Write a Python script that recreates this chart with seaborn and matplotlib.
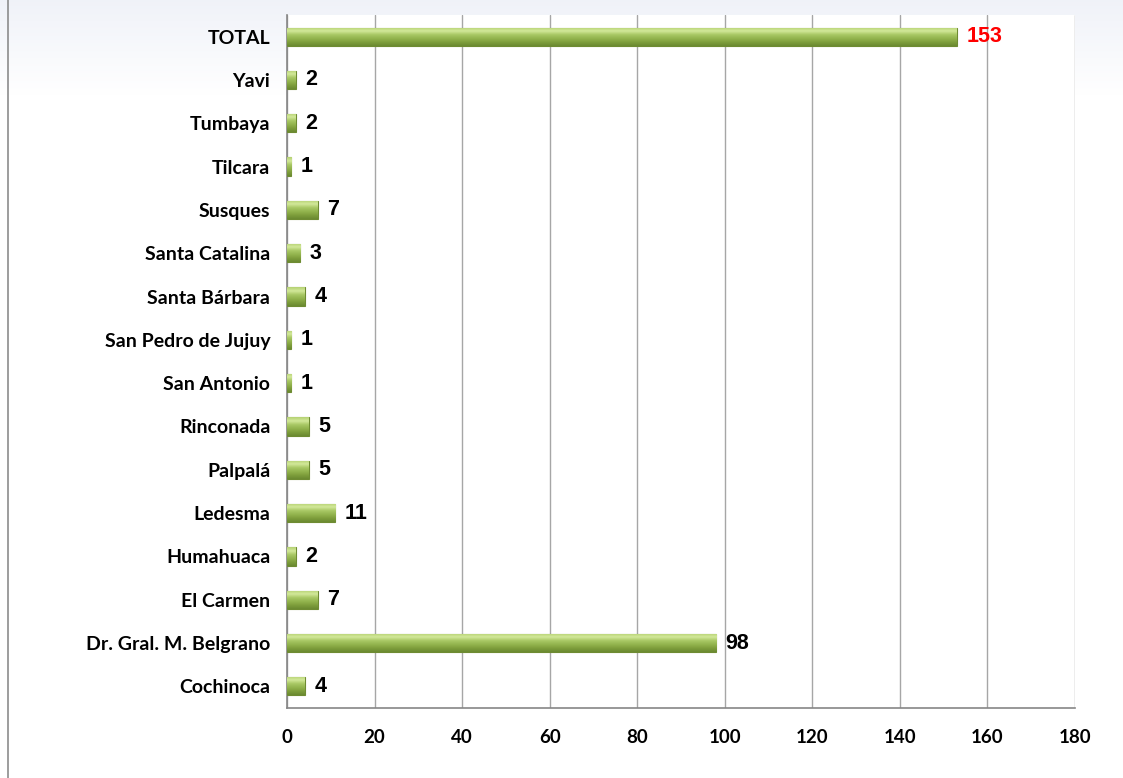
import numpy as np
import pandas as pd
import matplotlib
matplotlib.use("Agg")
import matplotlib.pyplot as plt
import seaborn as sns
from matplotlib.lines import Line2D
from matplotlib.colors import LinearSegmentedColormap

categories = ["TOTAL", "Yavi", "Tumbaya", "Tilcara", "Susques", "Santa Catalina",
              "Santa Bárbara", "San Pedro de Jujuy", "San Antonio", "Rinconada",
              "Palpalá", "Ledesma", "Humahuaca", "El Carmen",
              "Dr. Gral. M. Belgrano", "Cochinoca"]
values = [153, 2, 2, 1, 7, 3, 4, 1, 1, 5, 5, 11, 2, 7, 98, 4]
x_ticks = [0, 20, 40, 60, 80, 100, 120, 140, 160, 180]

df = pd.DataFrame({"municipio": categories, "cantidad": values})

sns.set_style("white")
plt.rcParams["font.family"] = ["Lato", "DejaVu Sans"]

fig = plt.figure(figsize=(11.23, 7.78), dpi=100)

# light gradient band at the top of the slide
bg = fig.add_axes([0, 0, 1, 1], zorder=-10)
grad = np.ones((778, 1, 3))
top = np.array([0.94, 0.95, 0.975])
for i in range(778):
    t = min(i / 95.0, 1.0)
    grad[i, 0] = top * (1 - t) + np.array([1, 1, 1]) * t
bg.imshow(grad, aspect="auto", extent=[0, 1, 0, 1], origin="upper")
bg.set_axis_off()
fig.add_artist(Line2D([8 / 1123, 8 / 1123], [0, 1], color="#8c8c8c", lw=1.2))

ax = fig.add_axes([287 / 1123, 1 - 708 / 778, (1075 - 287) / 1123, 693 / 778])
sns.barplot(data=df, y="municipio", x="cantidad", orient="h", color="#9BBB59",
            width=0.42, edgecolor="#6E8B32", linewidth=0.8, ax=ax, zorder=3)

# bevel-like vertical gradient on each bar
cmap = LinearSegmentedColormap.from_list(
    "bev", ["#B5D172", "#D2E89A", "#A9C865", "#93B44E", "#7E9E3C", "#6B8930"])
g = np.linspace(0, 1, 64).reshape(-1, 1)
for p in list(ax.patches):
    x0, y0 = p.get_x(), p.get_y()
    w, h = p.get_width(), p.get_height()
    im = ax.imshow(g, cmap=cmap, aspect="auto", extent=[x0, x0 + w, y0 + h, y0],
                   origin="upper", zorder=3.5)
    im.set_clip_path(p)

ax.set_xlim(0, 180)
ax.set_ylim(len(categories) - 0.5, -0.5)
ax.set_xticks(x_ticks)
ax.set_xlabel("")
ax.set_ylabel("")
ax.set_facecolor("white")
ax.grid(axis="x", color="#a6a6a6", lw=1, zorder=0)
ax.grid(axis="y", visible=False)
for s in ["top", "right"]:
    ax.spines[s].set_visible(False)
for s in ["left", "bottom"]:
    ax.spines[s].set_color("#868686")
    ax.spines[s].set_linewidth(1.2)

ax.set_yticks(np.arange(-0.5, len(categories), 1), minor=True)
ax.tick_params(axis="y", which="major", length=0, pad=12, labelsize=14)
ax.tick_params(axis="y", which="minor", length=6, color="#868686", width=1.2, direction="out")
ax.tick_params(axis="x", length=6, color="#868686", width=1.2, direction="out", pad=9, labelsize=13.5)
for lbl in ax.get_yticklabels() + ax.get_xticklabels():
    lbl.set_fontweight("bold")
    lbl.set_color("black")

for i, v in enumerate(values):
    ax.text(v + 2.2, i, str(v), va="center", ha="left", fontsize=15.5, fontweight="bold",
            family=["Liberation Sans", "DejaVu Sans"],
            color="red" if categories[i] == "TOTAL" else "black", zorder=5)

fig.savefig("out.png", dpi=100)
